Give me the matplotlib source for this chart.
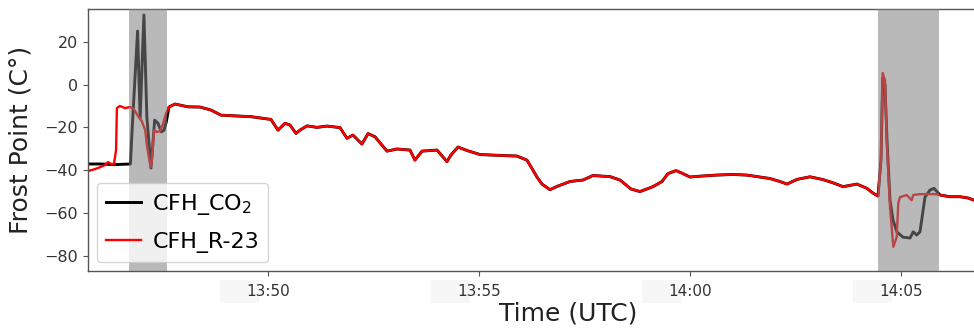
import matplotlib
matplotlib.use("Agg")
import matplotlib.pyplot as plt
import matplotlib.transforms as mtransforms
import numpy as np

# time in minutes after 13:45:00 UTC, frost point in deg C
t_co2_pre = [0.735, 1.02, 1.37, 1.74, 1.78, 1.91, 1.97, 2.06, 2.13, 2.227,
             2.315, 2.393, 2.472, 2.536, 2.590]
fp_co2_pre = [-37.1, -37.1, -37.4, -37.1, -21.3, 25.0, -15.7, 32.5, -15.2, -39.0,
              -16.6, -18.1, -22.1, -21.3, -17.4]

t_r23_pre = [0.735, 0.90, 1.02, 1.14, 1.21, 1.28, 1.35, 1.40, 1.42, 1.49, 1.61,
             1.73, 1.82, 1.92, 2.01, 2.09, 2.13, 2.18, 2.22, 2.25, 2.30, 2.37,
             2.44, 2.51, 2.58]
fp_r23_pre = [-40.4, -39.5, -38.6, -37.6, -36.2, -37.1, -37.1, -30.6, -11.0, -10.0, -11.0,
              -10.5, -11.4, -14.7, -17.1, -21.3, -28.3, -34.3, -38.6, -35.3, -21.3, -22.2,
              -21.7, -18.5, -13.8]

# both instruments agree between the two shaded periods
t_mid = [2.654, 2.796, 3.104, 3.389, 3.649, 3.886, 4.289, 4.597, 5.071, 5.237,
         5.403, 5.521, 5.664, 5.758, 5.924, 6.161, 6.398, 6.706, 6.872, 7.014,
         7.227, 7.370, 7.536, 7.820, 8.057, 8.365, 8.483, 8.649, 9.005, 9.242,
         9.336, 9.502, 9.716, 10.024, 10.261, 10.616, 10.900, 11.137, 11.280, 11.374,
         11.493, 11.682, 11.872, 12.156, 12.464, 12.701, 13.104, 13.341, 13.602, 13.815,
         14.123, 14.336, 14.479, 14.668, 14.834, 15.000, 15.237, 15.616, 16.019, 16.351,
         16.588, 16.896, 17.133, 17.299, 17.536, 17.844, 18.152, 18.389, 18.626, 18.957,
         19.194, 19.336, 19.455]
fp_mid = [-10.5, -9.1, -10.4, -10.5, -11.9, -14.3, -14.7, -15.0, -16.3, -21.3,
          -18.1, -18.9, -22.8, -21.3, -19.3, -20.0, -19.4, -20.1, -25.1, -23.6,
          -27.8, -22.9, -24.4, -31.1, -30.1, -30.6, -35.3, -31.1, -30.6, -36.0,
          -32.9, -29.2, -30.8, -32.7, -32.9, -33.2, -33.4, -35.3, -40.0, -43.2,
          -46.5, -49.1, -47.4, -45.3, -44.6, -42.5, -43.0, -44.6, -48.8, -50.0,
          -47.7, -45.3, -41.6, -40.2, -41.6, -43.2, -42.8, -42.3, -42.0, -42.3,
          -43.0, -43.9, -45.3, -46.5, -44.3, -43.1, -44.4, -45.9, -47.7, -46.5,
          -48.5, -50.7, -52.1]

t_co2_post = [19.526, 19.566, 19.621, 19.668, 19.739, 19.810, 19.905, 20.047, 20.213,
              20.291, 20.372, 20.450, 20.569, 20.687, 20.782, 20.924]
fp_co2_post = [-35.3, 3.0, -0.2, -25.9, -54.0, -63.3, -68.9, -71.3, -71.7,
               -68.8, -70.3, -68.8, -52.6, -49.3, -48.5, -51.6]

t_r23_post = [19.526, 19.566, 19.621, 19.661, 19.739, 19.818, 19.898, 19.936, 19.976,
              20.135, 20.253, 20.291, 20.450, 20.806, 20.924]
fp_r23_post = [-35.3, 5.4, 2.1, -25.9, -57.2, -75.8, -71.3, -55.4, -52.6,
               -51.6, -54.0, -51.6, -51.2, -51.2, -51.6]

t_tail = [21.161, 21.398, 21.588, 21.730]
fp_tail = [-52.4, -52.4, -53.0, -54.0]

# shaded periods (start, end)
periods = [(1.713, 2.614), (19.448, 20.908)]

tick_pos = [5, 10, 15, 20]
tick_labels = ["13:50", "13:55", "14:00", "14:05"]

t_co2 = t_co2_pre + t_mid + t_co2_post + t_tail
fp_co2 = fp_co2_pre + fp_mid + fp_co2_post + fp_tail
t_r23 = t_r23_pre + t_mid + t_r23_post + t_tail
fp_r23 = fp_r23_pre + fp_mid + fp_r23_post + fp_tail

fig = plt.figure(figsize=(9.74, 3.28), dpi=100)
ax = fig.add_axes([88 / 974, 1 - 271 / 328, (974 - 88) / 974, 262 / 328])

ax.plot(t_co2, fp_co2, color="black", lw=2.1, label="CFH_CO$_2$", zorder=2)
ax.plot(t_r23, fp_r23, color="red", lw=1.7, label="CFH_R-23", zorder=2.1)

for a, b in periods:
    ax.axvspan(a, b, color="gray", alpha=0.55, lw=0, zorder=3)

ax.set_xlim(0.735, 21.73)
ax.set_ylim(-87.1, 35.3)
ax.set_yticks([-80, -60, -40, -20, 0, 20])
ax.set_xticks(tick_pos)
ax.set_xticklabels(tick_labels)

for s in ["left", "bottom", "top"]:
    ax.spines[s].set_color("#555555")
    ax.spines[s].set_linewidth(1.0)
ax.spines["right"].set_visible(False)
ax.tick_params(axis="y", labelsize=11.5, colors="#555555", labelcolor="#333333", length=3.5)
ax.tick_params(axis="x", labelsize=11, colors="#555555", labelcolor="#333333", length=3.5, pad=6)

# faint boxes behind the time labels
trans = mtransforms.blended_transform_factory(ax.transData, ax.transAxes)
for p in tick_pos:
    ax.add_patch(plt.Rectangle((p - 1.14, -0.122), 0.93, 0.088, transform=trans,
                               color="#f7f7f7", lw=0, clip_on=False, zorder=0))

ax.set_ylabel("Frost Point (C°)", fontsize=18, color="#222222")
ax.yaxis.set_label_coords(-0.063, 0.5)
ax.set_xlabel("Time (UTC)", fontsize=18, color="#222222")
ax.xaxis.set_label_coords(0.542, -0.115)

ax.legend(loc="lower left", fontsize=16, handlelength=1.6, handletextpad=0.5,
          borderaxespad=0.4, labelspacing=0.7)

plt.savefig("out.png", dpi=100)
